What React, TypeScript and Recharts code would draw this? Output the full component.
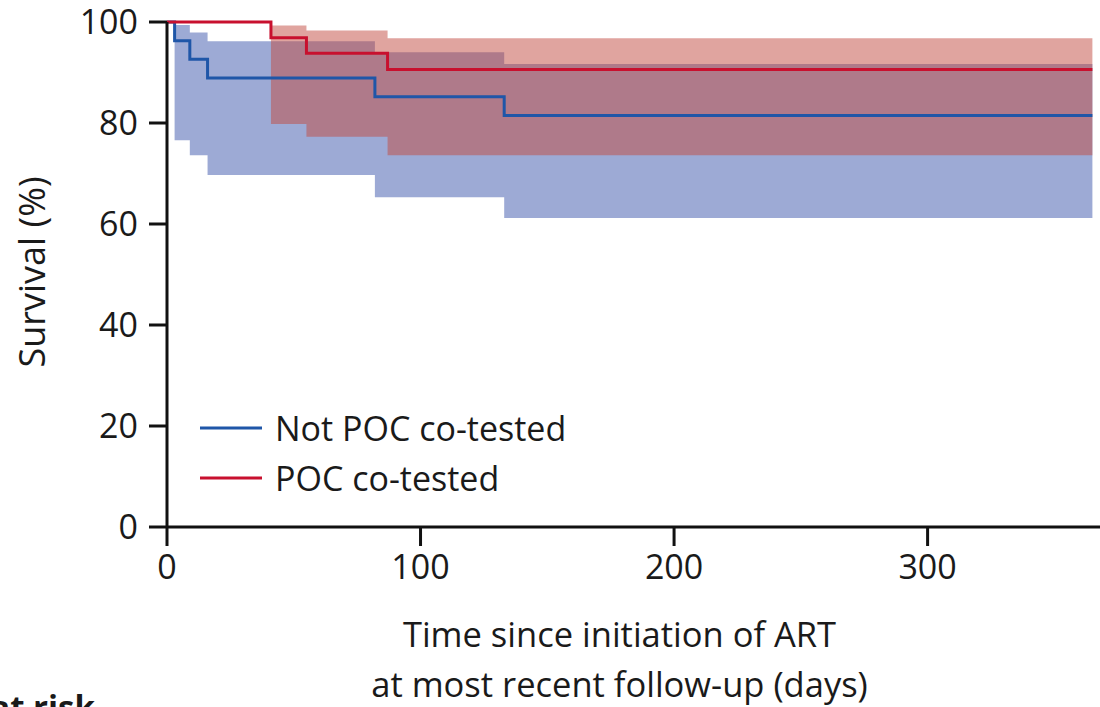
import { Area, ComposedChart, Label, Line, XAxis, YAxis } from "recharts";

// Kaplan-Meier steps (days, survival %)
const notCoTime = [0, 3, 9, 16, 82, 133, 365];
const notCoSurv = [100, 96.3, 92.6, 88.9, 85.2, 81.5, 81.5];
const notCoLow = [100, 76.6, 73.6, 69.7, 65.3, 61.2, 61.2];
const notCoHigh = [100, 99.4, 97.9, 96.2, 94.0, 91.7, 91.7];

const coTime = [0, 41, 55, 87, 365];
const coSurv = [100, 96.9, 93.8, 90.6, 90.6];
const coLow = [100, 79.8, 77.3, 73.6, 73.6];
const coHigh = [100, 99.3, 98.3, 96.8, 96.8];

const xTicks = [0, 100, 200, 300];
const yTicks = [0, 20, 40, 60, 80, 100];
const seriesNames = ["Not POC co-tested", "POC co-tested"];

const BLUE = "#1f56a8";
const RED = "#c8102e";
const INK = "#1a1a1a";

const notCoRows = notCoTime.map((t, i) => ({
  t,
  surv: notCoSurv[i],
  ci: [notCoLow[i], notCoHigh[i]],
}));
const coRows = coTime.map((t, i) => ({
  t,
  surv: coSurv[i],
  ci: [coLow[i], coHigh[i]],
}));

function KmLegend() {
  const colors = [BLUE, RED];
  return (
    <div style={{ position: "absolute", left: 200, top: 403 }}>
      {seriesNames.map((name, i) => (
        <div key={name} style={{ display: "flex", alignItems: "center", height: 50 }}>
          <svg width={75} height={10}>
            <line x1={0} x2={62} y1={5} y2={5} stroke={colors[i]} strokeWidth={3} />
          </svg>
          <span style={{ fontSize: 34, color: INK }}>{name}</span>
        </div>
      ))}
    </div>
  );
}

function XTitle(props: any) {
  const vb = props.viewBox;
  const cx = vb.x + vb.width / 2 - 14;
  return (
    <text textAnchor="middle" fill={INK} fontSize={34.5}>
      <tspan x={cx} y={vb.y + 120}>Time since initiation of ART</tspan>
      <tspan x={cx} y={vb.y + 170}>at most recent follow-up (days)</tspan>
    </text>
  );
}

function YTitle() {
  return (
    <text
      x={45}
      y={272}
      transform="rotate(-90, 45, 272)"
      textAnchor="middle"
      fill={INK}
      fontSize={36}
    >
      Survival (%)
    </text>
  );
}

export default function App() {
  return (
    <div
      style={{
        position: "fixed",
        left: 0,
        top: 0,
        width: 1100,
        height: 707,
        background: "#fff",
        fontFamily: "'Open Sans', sans-serif",
        overflow: "hidden",
      }}
    >
      <ComposedChart width={1100} height={707} margin={{ top: 22, right: 0, left: 0, bottom: 0 }}>
        <XAxis
          dataKey="t"
          type="number"
          domain={[0, 368]}
          ticks={xTicks}
          allowDataOverflow
          height={180}
          tickSize={19}
          tickMargin={9}
          axisLine={{ stroke: "#111", strokeWidth: 3 }}
          tickLine={{ stroke: "#111", strokeWidth: 3 }}
          tick={{ fill: INK, fontSize: 34 }}
          label={<Label content={XTitle} />}
        />
        <YAxis
          type="number"
          domain={[0, 100]}
          ticks={yTicks}
          width={167}
          tickSize={18}
          tickMargin={11}
          axisLine={{ stroke: "#111", strokeWidth: 3 }}
          tickLine={{ stroke: "#111", strokeWidth: 3 }}
          tick={{ fill: INK, fontSize: 34 }}
          label={<Label content={YTitle} />}
        />
        <Area
          data={notCoRows}
          dataKey="ci"
          type="stepAfter"
          fill="#3b55ab"
          fillOpacity={0.5}
          stroke="none"
          legendType="none"
          isAnimationActive={false}
        />
        <Area
          data={coRows}
          dataKey="ci"
          type="stepAfter"
          fill="#c1493f"
          fillOpacity={0.5}
          stroke="none"
          legendType="none"
          isAnimationActive={false}
        />
        <Line
          data={notCoRows}
          dataKey="surv"
          type="stepAfter"
          stroke={BLUE}
          strokeWidth={3}
          dot={false}
          isAnimationActive={false}
        />
        <Line
          data={coRows}
          dataKey="surv"
          type="stepAfter"
          stroke={RED}
          strokeWidth={3}
          dot={false}
          isAnimationActive={false}
        />
      </ComposedChart>
      <KmLegend />
      <div
        style={{
          position: "absolute",
          right: 1005,
          top: 684,
          whiteSpace: "nowrap",
          fontSize: 33,
          fontWeight: 700,
          color: INK,
        }}
      >
        Number at risk
      </div>
    </div>
  );
}
